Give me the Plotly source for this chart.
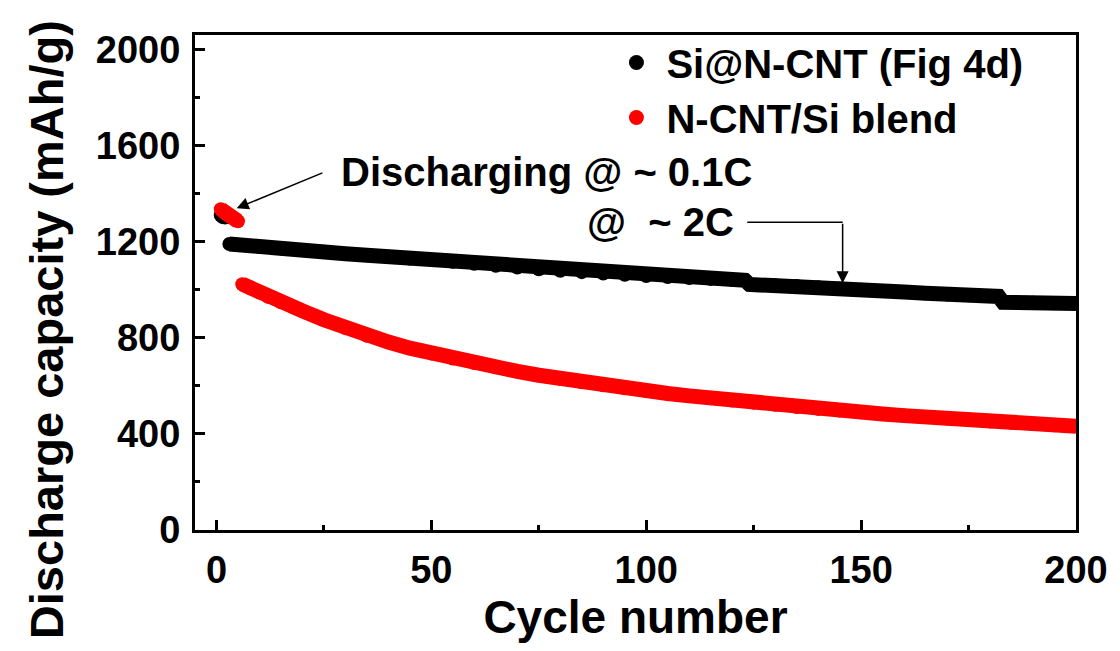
import plotly.graph_objects as go

# ---- data ----
si_cycles = [1, 2, None, 3, 5, 10, 15, 20, 25, 30, 35, 40, 45, 50, 55, 60, 65, 70, 75, 80, 85, 90, 95, 100,
             105, 110, 115, 120, 123, 124, 130, 135, 140, 145, 150, 155, 160, 165, 170, 175, 180, 182,
             183, 190, 195, 200]
si_capacity = [1310, 1300, None, 1190, 1186, 1178, 1172, 1165, 1158, 1150, 1143, 1137, 1130, 1124, 1116, 1108,
               1100, 1092, 1085, 1079, 1073, 1067, 1062, 1057, 1053, 1049, 1045, 1041, 1039, 1022, 1019,
               1015, 1010, 1005, 1000, 995, 990, 985, 980, 977, 974, 972, 948, 946, 944, 943]

blend_cycles = [1, 2, 3, 4, 5, None, 6, 8, 10, 12, 15, 18, 20, 25, 30, 35, 40, 45, 50, 55, 60, 65, 70, 75, 80,
                85, 90, 95, 100, 105, 110, 115, 120, 125, 130, 135, 140, 145, 150, 155, 160, 165, 170, 175,
                180, 185, 190, 195, 200]
blend_capacity = [1335, 1318, 1305, 1295, 1285, None, 1023, 1005, 988, 970, 948, 926, 912, 875, 840, 808, 782,
                  757, 735, 714, 695, 677, 660, 644, 629, 615, 602, 590, 579, 568, 558, 548, 539, 530, 521,
                  512, 504, 497, 490, 483, 476, 470, 464, 458, 452, 446, 441, 436, 432]

series_names = ["Si@N-CNT (Fig 4d)", "N-CNT/Si blend"]
series_colors = ["#000000", "#ff0000"]

x_tickvals = [0, 50, 100, 150, 200]
y_tickvals = [0, 400, 800, 1200, 1600, 2000]

FONT = "Liberation Sans, Arial, sans-serif"

fig = go.Figure()

for cyc, cap, color in [(si_cycles, si_capacity, series_colors[0]),
                        (blend_cycles, blend_capacity, series_colors[1])]:
    fig.add_trace(go.Scatter(
        x=cyc, y=cap, mode="lines+markers",
        line=dict(color=color, width=15),
        marker=dict(color=color, size=14, line=dict(width=0)),
        showlegend=False, hoverinfo="skip"))

# legend-only entries (dots)
for name, color in zip(series_names, series_colors):
    fig.add_trace(go.Scatter(
        x=[None], y=[None], mode="markers", name=name,
        marker=dict(color=color, size=15)))

axis_common = dict(
    showline=True, linecolor="black", linewidth=3, mirror=True,
    ticks="inside", ticklen=10, tickwidth=2.5, tickcolor="black",
    showgrid=False, zeroline=False,
    tickfont=dict(family=FONT, size=38, color="black", weight="bold"),
)

fig.update_xaxes(
    range=[-5, 200], tickvals=x_tickvals,
    minor=dict(ticks="inside", ticklen=5, tickwidth=2.5, tickcolor="black", dtick=25, tick0=0),
    title=dict(text="<b>Cycle number</b>", font=dict(family=FONT, size=46, color="black"), standoff=6),
    ticklabelstandoff=4,
    **axis_common)
fig.update_yaxes(
    range=[0, 2060], tickvals=y_tickvals,
    minor=dict(ticks="inside", ticklen=5, tickwidth=2.5, tickcolor="black", dtick=200, tick0=0),
    ticklabelstandoff=4,
    **axis_common)

fig.update_layout(
    width=1120, height=651,
    margin=dict(l=195, r=37, t=35, b=121),
    paper_bgcolor="white", plot_bgcolor="white",
    font=dict(family=FONT, color="black"),
    legend=dict(x=0.467, y=1.01, xanchor="left", yanchor="top",
                font=dict(family=FONT, size=40, color="black", weight="bold"),
                bgcolor="rgba(0,0,0,0)", itemwidth=50, tracegroupgap=0),
    showlegend=True,
)

# y-axis title placed as in the reference (shifted below centre)
fig.add_annotation(x=-0.169, y=0.404, xref="paper", yref="paper", text="<b>Discharge capacity (mAh/g)</b>",
                   textangle=-90, showarrow=False, xanchor="center", yanchor="middle",
                   font=dict(family=FONT, size=47, color="black"))

# annotations
fig.add_annotation(x=28.5, y=1489, xref="x", yref="y", text="<b>Discharging @ ~ 0.1C</b>",
                   showarrow=False, xanchor="left", yanchor="middle",
                   font=dict(family=FONT, size=40, color="black"))
fig.add_annotation(x=4.7, y=1339, ax=25, ay=1489, xref="x", yref="y", axref="x", ayref="y",
                   text="", showarrow=True, arrowhead=2, arrowsize=1.6, arrowwidth=1.5, arrowcolor="black")

fig.add_annotation(x=85.7, y=1281, xref="x", yref="y", text="<b>@&nbsp;&nbsp;~ 2C</b>",
                   showarrow=False, xanchor="left", yanchor="middle",
                   font=dict(family=FONT, size=40, color="black"))
fig.add_shape(type="line", x0=123.5, y0=1281, x1=145.7, y1=1281, xref="x", yref="y",
              line=dict(color="black", width=1.5))
fig.add_annotation(x=145.7, y=1027, ax=145.7, ay=1281, xref="x", yref="y", axref="x", ayref="y",
                   text="", showarrow=True, arrowhead=2, arrowsize=1.6, arrowwidth=1.5, arrowcolor="black")

fig.write_html("out.html", config={"displayModeBar": False})

# remove default page margin so the 1120x651 figure fills the window exactly
with open("out.html", "r", encoding="utf-8") as f:
    html = f.read()
html = html.replace("<head>", "<head><style>html,body{margin:0;padding:0;overflow:hidden;}</style>", 1)
with open("out.html", "w", encoding="utf-8") as f:
    f.write(html)
